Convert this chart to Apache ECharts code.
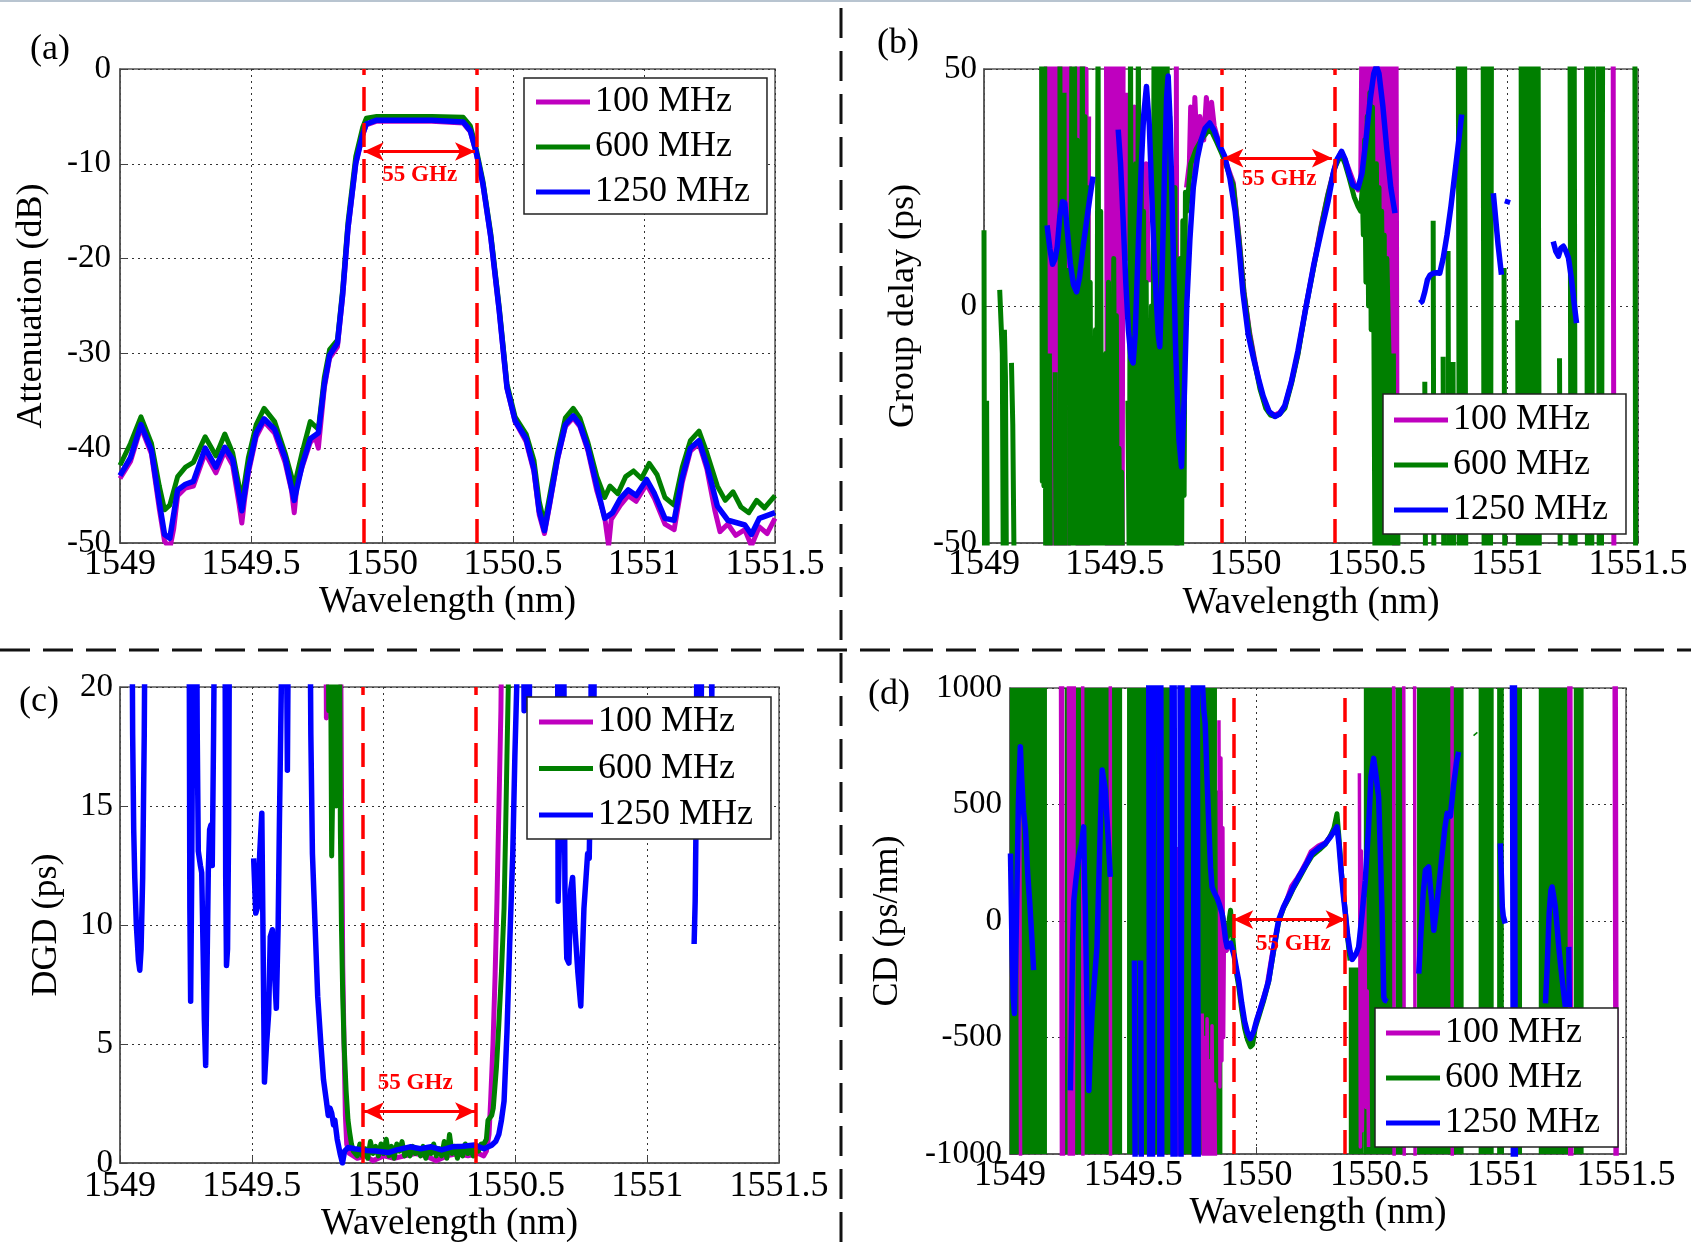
<!DOCTYPE html>
<html>
<head>
<meta charset="utf-8">
<title>Filter response vs. resolution</title>
<script src="https://cdn.jsdelivr.net/npm/echarts@6.0.0/dist/echarts.min.js"></script>
<style>
  html, body { margin: 0; padding: 0; background: #fff; }
  #chart { width: 1691px; height: 1242px; }
</style>
</head>
<body>
<div id="chart"></div>
<script>
const FONT = 'Liberation Serif';
const C_MAG = '#BF00BF', C_GRN = '#007F00', C_BLU = '#0000FF', C_RED = '#FF0000';
const NAMES = ['100 MHz', '600 MHz', '1250 MHz'];
const X_MIN = 1549, X_MAX = 1551.5, X_STEP = 0.5;

// ---------- (a) attenuation, dB ----------
const aMag = [[1549.00,-43.2],[1549.04,-41.4],[1549.08,-37.8],[1549.12,-40.6],[1549.15,-46.4],[1549.17,-49.8],[1549.19,-50.6],[1549.205,-48.5],[1549.22,-45.0],[1549.25,-44.2],[1549.28,-44.0],[1549.325,-40.5],[1549.366,-42.6],[1549.40,-40.3],[1549.43,-41.8],[1549.455,-46.0],[1549.465,-47.9],[1549.475,-45.5],[1549.49,-42.6],[1549.52,-38.8],[1549.55,-37.2],[1549.59,-38.4],[1549.63,-41.5],[1549.655,-44.5],[1549.665,-46.8],[1549.675,-44.0],[1549.695,-42.0],[1549.726,-39.4],[1549.745,-38.8],[1549.757,-40.0],[1549.78,-33.6],[1549.80,-30.5],[1549.83,-29.3],[1549.85,-24.0],[1549.87,-17.0],[1549.90,-10.0],[1549.926,-7.0],[1549.94,-5.9],[1549.98,-5.5],[1550.10,-5.5],[1550.19,-5.5],[1550.31,-5.7],[1550.337,-6.6],[1550.358,-8.7],[1550.385,-12.2],[1550.415,-17.8],[1550.447,-25.5],[1550.477,-33.7],[1550.508,-37.2],[1550.55,-39.3],[1550.58,-42.5],[1550.60,-47.0],[1550.62,-49.0],[1550.64,-46.0],[1550.67,-41.2],[1550.70,-37.7],[1550.73,-36.8],[1550.755,-37.7],[1550.786,-40.3],[1550.82,-44.5],[1550.85,-47.3],[1550.865,-50.3],[1550.875,-47.5],[1550.91,-46.0],[1550.94,-45.0],[1550.97,-45.6],[1551.01,-43.8],[1551.04,-45.3],[1551.08,-48.0],[1551.115,-48.6],[1551.146,-43.6],[1551.177,-40.3],[1551.21,-39.5],[1551.24,-42.2],[1551.27,-46.5],[1551.29,-48.8],[1551.32,-48.0],[1551.35,-49.2],[1551.385,-48.6],[1551.41,-50.3],[1551.44,-48.3],[1551.47,-49.0],[1551.50,-47.4]];
const aGrn = [[1549.00,-41.8],[1549.04,-39.5],[1549.08,-36.7],[1549.12,-39.5],[1549.15,-44.0],[1549.17,-46.5],[1549.19,-46.0],[1549.22,-43.0],[1549.25,-42.0],[1549.28,-41.5],[1549.325,-38.8],[1549.366,-40.8],[1549.40,-38.5],[1549.43,-40.5],[1549.465,-45.5],[1549.49,-41.0],[1549.52,-37.5],[1549.55,-35.8],[1549.59,-37.2],[1549.63,-40.5],[1549.665,-44.0],[1549.695,-40.5],[1549.726,-37.2],[1549.757,-38.0],[1549.78,-32.5],[1549.80,-29.6],[1549.83,-28.6],[1549.85,-23.2],[1549.87,-16.2],[1549.90,-9.2],[1549.926,-6.2],[1549.94,-5.2],[1549.98,-5.0],[1550.10,-5.0],[1550.19,-5.0],[1550.31,-5.1],[1550.337,-6.0],[1550.358,-8.2],[1550.385,-11.8],[1550.415,-17.3],[1550.447,-25.0],[1550.477,-33.2],[1550.508,-36.7],[1550.55,-38.5],[1550.58,-41.3],[1550.60,-45.6],[1550.62,-48.0],[1550.64,-45.0],[1550.67,-40.5],[1550.70,-36.8],[1550.73,-35.8],[1550.755,-36.8],[1550.786,-39.4],[1550.82,-43.0],[1550.85,-45.2],[1550.87,-44.0],[1550.90,-44.8],[1550.93,-43.0],[1550.96,-42.4],[1550.99,-43.2],[1551.02,-41.6],[1551.05,-42.8],[1551.08,-45.2],[1551.115,-46.0],[1551.146,-42.0],[1551.177,-39.2],[1551.21,-38.2],[1551.24,-40.5],[1551.28,-44.0],[1551.31,-45.5],[1551.34,-44.6],[1551.37,-46.2],[1551.40,-46.8],[1551.43,-45.5],[1551.46,-46.3],[1551.50,-45.0]];
const aBlu = [[1549.00,-42.9],[1549.04,-41.0],[1549.08,-37.5],[1549.12,-40.2],[1549.15,-45.7],[1549.17,-49.1],[1549.19,-49.5],[1549.22,-44.4],[1549.25,-43.8],[1549.28,-43.5],[1549.325,-40.0],[1549.366,-42.0],[1549.40,-39.9],[1549.43,-41.2],[1549.465,-46.6],[1549.49,-42.2],[1549.52,-38.4],[1549.55,-36.9],[1549.59,-38.0],[1549.63,-41.0],[1549.665,-45.5],[1549.695,-41.8],[1549.726,-39.0],[1549.757,-38.4],[1549.78,-33.2],[1549.80,-30.2],[1549.83,-28.9],[1549.85,-23.7],[1549.87,-16.8],[1549.90,-9.9],[1549.926,-6.9],[1549.94,-5.8],[1549.98,-5.4],[1550.10,-5.4],[1550.19,-5.4],[1550.31,-5.6],[1550.337,-6.5],[1550.358,-8.6],[1550.385,-12.1],[1550.415,-17.7],[1550.447,-25.4],[1550.477,-33.6],[1550.508,-37.1],[1550.55,-39.0],[1550.58,-42.2],[1550.60,-46.6],[1550.62,-48.7],[1550.64,-45.7],[1550.67,-41.0],[1550.70,-37.5],[1550.73,-36.6],[1550.755,-37.5],[1550.786,-40.0],[1550.82,-44.0],[1550.85,-47.4],[1550.88,-46.8],[1550.91,-45.3],[1550.94,-44.4],[1550.97,-45.0],[1551.01,-43.3],[1551.04,-44.8],[1551.08,-47.4],[1551.115,-47.6],[1551.146,-43.1],[1551.177,-40.0],[1551.21,-39.2],[1551.24,-41.8],[1551.28,-46.1],[1551.32,-47.6],[1551.385,-48.1],[1551.41,-49.1],[1551.44,-47.4],[1551.50,-46.8]];
const aCuts = [1549.93, 1550.355];
const aArrow = [1549.93, 1550.355, -8.7];
const aLabel = [1550.144, -11.2];

// ---------- (b) group delay, ps ----------
const bMag = [[1549.238,60],[1549.242,-60],[1549.246,60],[1549.25,-60],[1549.254,60],[1549.258,-60],[1549.262,60],[1549.266,-60],[1549.27,60],[1549.274,-60],[1549.278,60],[1549.282,-60],[1549.286,60],[1549.29,-60],[1549.294,60],[1549.298,-60],[1549.302,60],[1549.306,-60],[1549.31,60],[1549.314,-60],[1549.318,60],[1549.322,-60],[1549.326,60],[1549.33,-20],null,
  [1549.356,60],[1549.36,-60],[1549.364,60],[1549.368,-60],[1549.372,60],[1549.376,-60],[1549.38,60],[1549.384,-30],[1549.39,50],[1549.395,-60],[1549.40,40],null,
  [1549.468,60],[1549.472,-60],[1549.476,60],[1549.48,-60],[1549.484,60],[1549.488,-60],[1549.492,60],[1549.496,-60],[1549.50,60],[1549.504,-60],[1549.508,60],[1549.512,-60],[1549.516,60],[1549.52,-60],[1549.524,60],[1549.528,-60],[1549.532,60],null,
  [1549.545,45],[1549.55,10],[1549.555,40],[1549.56,-5],[1549.565,35],[1549.57,5],[1549.575,42],[1549.58,-10],[1549.59,30],[1549.595,0],[1549.60,38],[1549.61,-15],[1549.62,30],[1549.63,5],null,
  [1549.735,60],[1549.738,-60],null,
  [1549.774,25],[1549.785,30],[1549.79,42],[1549.797,28],[1549.806,44],[1549.815,32],[1549.825,40],[1549.84,35],[1549.85,44],[1549.86,38],[1549.87,43],[1549.88,38],[1549.89,36],[1549.91,32.5],[1549.93,29.5],[1549.953,26],[1549.975,14.5],[1549.994,3],[1550.015,-5.5],[1550.035,-11.5],[1550.055,-17],[1550.077,-21.2],[1550.095,-22.6],[1550.112,-23],[1550.13,-22.5],[1550.15,-21.2],[1550.175,-16],[1550.2,-10],[1550.23,-0.2],[1550.262,9],[1550.29,17.3],[1550.314,23.5],[1550.34,29.2],[1550.365,32.5],[1550.38,31],[1550.396,28.6],[1550.415,25.8],[1550.43,24.5],[1550.44,26],
  [1550.445,60],[1550.45,20],[1550.455,60],[1550.46,22],[1550.465,60],[1550.47,15],[1550.475,60],[1550.48,25],[1550.485,60],[1550.49,10],[1550.495,60],[1550.50,20],[1550.505,60],[1550.51,5],[1550.515,60],[1550.52,-5],[1550.525,60],[1550.53,0],[1550.535,60],[1550.54,-15],[1550.545,60],[1550.55,10],[1550.555,60],[1550.56,-30],[1550.565,60],[1550.57,-60],[1550.575,60],[1550.58,-60],null,
  [1551.405,60],[1551.408,-60]];
const bGrn = [[1549.000,16],[1549.002,-60],null,[1549.010,-20],[1549.013,-60],null,
  [1549.060,3.4],[1549.066,3.6],[1549.070,-10],[1549.074,-60],null,[1549.078,-5],[1549.082,-15],[1549.086,-60],null,[1549.105,-12],[1549.110,-25],[1549.116,-60],null,
  [1549.220,60],[1549.223,-37],[1549.226,60],[1549.229,-38],[1549.232,55],[1549.236,-60],null,
  [1549.25,-10],[1549.254,-60],null,[1549.272,-14],[1549.276,-60],null,
  [1549.290,60],[1549.293,-60],null,[1549.306,45],[1549.31,-60],null,
  [1549.326,8],[1549.33,-60],[1549.336,60],[1549.34,-60],[1549.346,60],[1549.35,-55],[1549.356,35],[1549.36,-60],[1549.366,12],[1549.37,-60],[1549.376,60],[1549.38,-60],[1549.386,40],[1549.39,-60],[1549.396,25],[1549.40,-60],[1549.406,5],[1549.41,-60],[1549.416,-15],[1549.42,-60],[1549.426,-5],[1549.43,-60],[1549.436,60],[1549.44,-60],[1549.446,20],[1549.45,-60],[1549.456,-25],[1549.46,-60],[1549.466,-10],[1549.47,-60],[1549.476,5],[1549.48,-60],[1549.486,-20],[1549.49,-60],[1549.496,10],[1549.50,-40],[1549.506,-2],[1549.51,-60],[1549.516,-30],[1549.52,-55],[1549.526,-35],[1549.53,-58],null,
  [1549.55,-20],[1549.556,-60],[1549.56,60],[1549.565,-60],[1549.57,-5],[1549.575,-60],[1549.58,30],[1549.585,-60],[1549.59,60],[1549.595,-60],[1549.60,40],[1549.605,-45],[1549.61,20],[1549.615,-60],[1549.62,5],[1549.625,-60],[1549.63,-30],[1549.635,-55],[1549.64,0],[1549.645,-60],[1549.65,60],[1549.655,-60],[1549.66,-20],[1549.665,-55],[1549.67,60],[1549.675,-60],[1549.68,60],[1549.685,-60],[1549.69,20],[1549.695,-50],[1549.70,60],[1549.705,-60],[1549.71,40],[1549.715,-60],[1549.72,10],[1549.725,-60],[1549.73,25],[1549.735,-60],[1549.74,-10],[1549.745,-60],[1549.75,10],[1549.755,-60],[1549.76,18],[1549.765,-40],[1549.77,24],[1549.775,20],[1549.79,30],[1549.81,33],[1549.83,35],[1549.864,37.5],[1549.89,34.5],[1549.91,32],[1549.93,29],[1549.953,25.5],[1549.975,14],[1549.994,2.6],[1550.015,-6],[1550.035,-12],[1550.055,-17.5],[1550.077,-21.6],[1550.095,-23],[1550.112,-23.3],[1550.13,-22.8],[1550.15,-21.6],[1550.175,-16.5],[1550.2,-10.3],[1550.23,-0.5],[1550.262,8.6],[1550.29,17],[1550.314,23.3],[1550.34,29],[1550.365,32],[1550.38,30],[1550.396,27],[1550.415,23],[1550.43,21],[1550.44,20],
  [1550.446,25],[1550.45,15],[1550.455,35],[1550.46,5],[1550.465,40],[1550.47,0],[1550.475,45],[1550.48,-5],[1550.485,42],[1550.49,0],[1550.495,-60],[1550.50,30],[1550.505,-2],[1550.51,25],[1550.515,-60],[1550.52,20],[1550.525,-8],[1550.53,15],[1550.535,-60],[1550.54,10],[1550.55,-15],[1550.555,-60],null,
  [1550.565,-10],[1550.568,-60],null,[1550.58,-20],[1550.583,-60],null,[1550.645,-45],[1550.66,-48],null,
  [1550.685,-16],[1550.688,-60],null,[1550.717,18],[1550.72,-60],null,[1550.755,-10.7],[1550.758,-60],null,[1550.774,11.6],[1550.777,-60],null,[1550.793,-11.8],[1550.796,-60],null,
  [1550.813,60],[1550.817,-60],[1550.821,60],[1550.825,-60],[1550.829,60],[1550.833,-60],[1550.837,60],[1550.842,-60],null,
  [1550.908,60],[1550.912,-60],[1550.916,60],[1550.92,-60],[1550.924,60],[1550.928,-60],[1550.932,60],[1550.936,-60],[1550.94,60],null,
  [1550.988,8],[1550.991,-60],null,[1551.04,-3],[1551.043,-60],null,
  [1551.053,60],[1551.057,-60],[1551.061,60],[1551.065,-60],[1551.069,60],[1551.073,-60],[1551.078,30],[1551.083,-60],[1551.088,60],[1551.093,-60],[1551.098,60],[1551.103,-60],[1551.108,60],[1551.113,-60],[1551.118,60],[1551.123,-60],null,
  [1551.2,-11],[1551.203,-60],null,
  [1551.24,60],[1551.244,-60],[1551.248,60],[1551.252,-60],[1551.256,60],[1551.26,-60],null,
  [1551.303,60],[1551.307,-60],[1551.311,60],[1551.315,-60],[1551.319,60],[1551.323,-60],[1551.328,60],null,
  [1551.348,60],[1551.352,-60],[1551.356,60],[1551.36,-60],[1551.365,60],null,
  [1551.488,60],[1551.491,-60]];
const bBlu = [[1549.241,17],[1549.252,12],[1549.262,8.8],[1549.272,10],[1549.28,12.5],[1549.29,19],[1549.30,22],[1549.309,21.7],[1549.32,15],[1549.33,9],[1549.342,4.5],[1549.354,3],[1549.365,6],[1549.38,13],[1549.395,19],[1549.405,23],[1549.417,27.3],null,
  [1549.513,37.2],[1549.522,30],[1549.532,18],[1549.542,5],[1549.552,-5],[1549.562,-11],[1549.57,-12],[1549.578,-6],[1549.588,10],[1549.60,28],[1549.61,40],[1549.621,46.3],[1549.632,38],[1549.645,18],[1549.658,2],[1549.666,-6],[1549.672,-8.6],[1549.68,5],[1549.69,28],[1549.698,44],[1549.704,48.5],[1549.712,38],[1549.722,15],[1549.733,-10],[1549.745,-28],[1549.755,-33.9],[1549.765,-20],[1549.775,0],[1549.787,14],[1549.80,25],[1549.815,31],[1549.83,35],[1549.845,37.5],[1549.863,38.6],[1549.88,37],[1549.9,34],[1549.92,31.6],[1549.94,27],[1549.96,20],[1549.975,12],[1549.99,2.7],[1550.01,-6],[1550.03,-11],[1550.05,-15.5],[1550.067,-19],[1550.09,-22.3],[1550.112,-23.3],[1550.13,-22.8],[1550.15,-21],[1550.175,-16],[1550.2,-9.5],[1550.23,-0.5],[1550.26,8.5],[1550.29,16],[1550.315,22],[1550.335,28],[1550.35,31],[1550.367,32.6],[1550.38,31],[1550.395,28],[1550.41,25.5],[1550.43,24.9],[1550.445,28],[1550.46,35],[1550.475,43],[1550.49,49],[1550.5,50.6],[1550.51,49],[1550.525,42],[1550.54,33],[1550.555,25],[1550.571,19.6],null,
  [1550.666,0.6],[1550.675,1],[1550.685,3],[1550.695,5.5],[1550.705,6.5],[1550.717,6.9],[1550.73,7],[1550.742,6.9],[1550.755,10],[1550.77,15],[1550.785,21],[1550.8,28],[1550.815,35],[1550.826,40.4],null,
  [1550.947,23.8],[1550.955,19],[1550.965,13],[1550.978,6.6],null,[1550.998,21.5],[1551.004,22.5],null,
  [1551.176,13.6],[1551.186,11.5],[1551.196,10.5],[1551.205,12.2],[1551.215,12.6],[1551.225,11.5],[1551.234,10.2],[1551.245,6],[1551.255,1],[1551.265,-3.6]];
const bCuts = [1549.91, 1550.336];
const bArrow = [1549.915, 1550.33, 31.2];
const bLabel = [1550.128, 26.7];

// ---------- (c) DGD, ps ----------
const cMag = [[1549.78,25],[1549.783,18.7],[1549.786,25],null,
  [1549.836,25],[1549.84,16],[1549.845,8.3],[1549.85,5],[1549.855,2],[1549.86,0.8],[1549.87,0.4],[1549.9,0.2],[1549.93,0.3],[1549.96,0.1],[1550.0,0.3],[1550.04,0.2],[1550.08,0.3],[1550.12,0.4],[1550.16,0.3],[1550.2,0.1],[1550.24,0.3],[1550.28,0.4],[1550.32,0.3],[1550.36,0.4],[1550.38,0.3],[1550.39,0.5],[1550.40,1.2],[1550.406,2.6],[1550.415,5],[1550.423,7.9],[1550.43,11],[1550.437,14.7],[1550.445,19],[1550.451,25]];
const cGrn = [[1549.788,25],[1549.792,19],[1549.795,25],[1549.80,19],[1549.803,12.9],[1549.806,15],[1549.81,25],[1549.815,18],[1549.82,15],[1549.824,25],[1549.828,17],[1549.832,25],[1549.836,14],[1549.84,10],[1549.845,7],[1549.85,5],[1549.858,3],[1549.865,1.8],[1549.871,1.3],[1549.878,0.8],[1549.885,0.5],[1549.9,0.3],[1549.91,0.8],[1549.92,0.3],[1549.93,0.6],[1549.94,0.2],[1549.95,0.9],[1549.96,0.4],[1549.97,0.7],[1549.98,0.3],[1549.99,0.8],[1550.0,0.4],[1550.01,1.0],[1550.02,0.3],[1550.03,0.7],[1550.04,0.2],[1550.05,0.8],[1550.06,0.5],[1550.07,0.9],[1550.08,0.3],[1550.09,0.6],[1550.1,0.3],[1550.11,0.7],[1550.12,0.4],[1550.13,0.6],[1550.14,0.3],[1550.15,0.7],[1550.16,0.2],[1550.17,0.6],[1550.18,0.4],[1550.19,0.8],[1550.2,0.3],[1550.21,0.6],[1550.22,0.3],[1550.23,0.9],[1550.24,0.2],[1550.25,1.2],[1550.26,0.4],[1550.27,0.7],[1550.28,0.2],[1550.29,0.6],[1550.3,0.3],[1550.31,0.8],[1550.32,0.4],[1550.33,0.6],[1550.34,0.3],[1550.35,0.7],[1550.36,0.5],[1550.37,0.8],[1550.38,0.8],[1550.39,1.0],[1550.396,1.8],[1550.41,2.0],[1550.416,2.3],[1550.428,4],[1550.437,5.8],[1550.447,8],[1550.457,10.7],[1550.463,14],[1550.468,17.1],[1550.473,20],[1550.478,25]];
const cBlu = [[1549.045,25],[1549.048,18],[1549.052,14],[1549.056,12],[1549.062,10],[1549.07,8.5],[1549.075,8.1],[1549.08,9],[1549.086,12],[1549.092,18],[1549.096,25],null,
  [1549.262,25],[1549.265,10.7],[1549.268,6.8],[1549.272,12],[1549.276,20],[1549.28,25],null,
  [1549.29,25],[1549.293,18],[1549.297,13.1],[1549.305,12.5],[1549.31,12.2],[1549.32,6],[1549.325,4.1],[1549.33,8],[1549.335,12.3],[1549.34,14],[1549.345,14.2],[1549.35,12.5],[1549.355,18],[1549.36,25],null,
  [1549.398,25],[1549.401,12],[1549.404,8.3],[1549.408,9],[1549.412,14],[1549.416,25],null,
  [1549.507,12.8],[1549.515,10.5],[1549.523,10.8],[1549.53,13],[1549.538,14.7],[1549.548,3.4],[1549.556,5],[1549.564,6.3],[1549.57,9.5],[1549.578,9.8],[1549.586,8],[1549.593,6.5],[1549.60,10],[1549.605,14.5],[1549.612,20],[1549.617,25],null,
  [1549.63,25],[1549.635,16.5],[1549.64,25],null,
  [1549.72,25],[1549.724,18],[1549.73,13],[1549.74,10],[1549.75,7],[1549.762,5],[1549.772,3.5],[1549.783,2.6],[1549.79,2.0],[1549.797,2.3],[1549.803,2.1],[1549.81,1.6],[1549.815,1.8],[1549.824,1.0],[1549.835,0.4],[1549.844,0.0],[1549.852,0.5],[1549.865,0.65],[1549.89,0.6],[1549.936,0.52],[1549.97,0.5],[1550.018,0.44],[1550.05,0.55],[1550.1,0.68],[1550.14,0.6],[1550.18,0.68],[1550.22,0.55],[1550.26,0.68],[1550.3,0.7],[1550.345,0.76],[1550.38,0.6],[1550.41,0.75],[1550.425,0.9],[1550.437,1.2],[1550.447,1.8],[1550.457,2.6],[1550.468,5.5],[1550.478,9.1],[1550.49,13],[1550.498,17.1],[1550.505,20],[1550.513,25],null,
  [1550.53,25],[1550.533,19],[1550.536,25],null,[1550.55,25],[1550.553,19.5],[1550.556,25],null,
  [1550.660,25],[1550.662,11],[1550.666,13],[1550.672,14.7],[1550.676,25],null,
  [1550.682,25],[1550.688,11.5],[1550.695,8.6],[1550.703,8.4],[1550.71,11.5],[1550.717,12],[1550.725,10],[1550.737,8],[1550.748,6.6],[1550.755,9],[1550.76,10.7],[1550.768,12],[1550.774,13],[1550.78,12.8],[1550.785,16],[1550.79,25],null,
  [1550.795,25],[1550.798,19],[1550.80,25],null,
  [1551.178,9.2],[1551.182,11],[1551.185,14],[1551.19,25],null,
  [1551.2,25],[1551.205,19.3],[1551.21,25],null,[1551.24,25],[1551.245,19.5],[1551.25,25]];
const cCuts = [1549.925, 1550.347];
const cArrow = [1549.925, 1550.347, 2.16];
const cLabel = [1550.12, 3.34];

// ---------- (d) chromatic dispersion, ps/nm ----------
// solid green regions where the 600 MHz trace oscillates densely: [from, to, top, bottom]
const dGrnBands = [[1549.0,1549.15,1000,-1000],[1549.222,1549.236,1000,-1000],[1549.262,1549.455,1000,-1000],[1549.475,1549.658,1000,-1000],[1549.683,1549.84,1000,-1000],[1549.84,1549.862,560,-1000],
  [1550.375,1550.436,-200,-1000],[1550.436,1550.557,1000,-1000],[1550.564,1550.597,1000,-1000],[1550.652,1550.841,1000,-1000],[1550.902,1550.963,1000,-1000],[1550.977,1551.004,1000,-1000],[1551.051,1551.078,1000,-1000],[1551.146,1551.268,1000,-1000],[1551.288,1551.328,1000,-1000]];
const dGrn = [[1549.862,30],[1549.87,-20],[1549.878,-90],[1549.885,-60],[1549.89,10],[1549.895,46],[1549.9,40],[1549.905,-80],[1549.912,-170],[1549.92,-230],[1549.928,-280],[1549.94,-380],[1549.952,-460],[1549.964,-510],[1549.976,-540],[1549.985,-530],[1549.995,-460],[1550.01,-410],[1550.03,-340],[1550.05,-260],[1550.07,-130],[1550.09,-5],[1550.11,55],[1550.13,95],[1550.15,140],[1550.172,180],[1550.2,235],[1550.226,280],[1550.255,305],[1550.28,330],[1550.3,365],[1550.315,400],[1550.327,460],[1550.335,360],[1550.345,210],[1550.353,120],[1550.361,40],[1550.37,-70],[1550.38,-170],null,
  [1550.887,805],[1550.891,800]];
const dMag = [[1549.04,463],[1549.043,-1100],null,
  [1549.205,1100],[1549.209,-1100],[1549.213,1100],[1549.217,-1100],null,
  [1549.237,1100],[1549.241,-1100],[1549.245,1100],[1549.249,-1100],[1549.253,1100],[1549.257,-1100],[1549.261,1100],null,
  [1549.295,1100],[1549.296,-1100],null,[1549.407,1100],[1549.408,-1100],null,
  [1549.68,318],[1549.683,-1100],null,
  [1549.78,-397],[1549.785,-1100],[1549.79,-500],[1549.795,-1100],[1549.80,-420],[1549.805,-1100],[1549.81,-600],[1549.815,-1100],[1549.82,-450],[1549.825,-1100],[1549.83,-700],[1549.835,-1100],null,
  [1549.848,862],[1549.852,-712],[1549.856,700],[1549.86,-600],[1549.864,400],[1549.867,-500],[1549.87,-60],[1549.88,-130],[1549.89,-110],[1549.9,-90],[1549.91,-160],[1549.92,-200],[1549.93,-270],[1549.945,-400],[1549.96,-470],[1549.972,-520],[1549.985,-490],[1550.0,-420],[1550.02,-350],[1550.04,-280],[1550.06,-150],[1550.08,-40],[1550.1,40],[1550.12,90],[1550.14,150],[1550.16,180],[1550.18,215],[1550.2,255],[1550.22,300],[1550.25,325],[1550.28,340],[1550.3,370],[1550.32,400],[1550.33,420],[1550.34,300],[1550.35,150],[1550.36,50],[1550.37,-80],[1550.38,-150],null,
  [1550.418,634],[1550.422,-970],[1550.426,300],[1550.43,-900],[1550.44,100],[1550.445,-800],[1550.45,-300],[1550.455,-970],null,
  [1550.557,1100],[1550.559,-1100],null,[1550.598,1100],[1550.6,-1100],null,[1550.642,1100],[1550.644,-1100],null,[1550.794,1100],[1550.795,-1100],null,
  [1551.268,1100],[1551.272,-1100],[1551.276,1100],[1551.28,-1100],null,
  [1551.452,1100],[1551.456,-1100],[1551.46,1100],[1551.464,-1100]];
const dBlu = [[1549.002,290],[1549.008,-100],[1549.013,-330],[1549.018,-397],[1549.026,0],[1549.034,500],[1549.042,748],[1549.048,600],[1549.055,470],[1549.063,390],[1549.072,200],[1549.08,80],[1549.088,-60],[1549.096,-211],null,
  [1549.245,-727],[1549.25,-400],[1549.254,-100],[1549.259,89],[1549.268,180],[1549.279,275],[1549.29,330],[1549.299,404],[1549.302,200],[1549.306,31],[1549.312,-350],[1549.32,-727],[1549.326,-560],[1549.333,-397],[1549.343,-250],[1549.353,-111],[1549.36,150],[1549.367,420],[1549.374,648],[1549.38,610],[1549.387,562],[1549.397,380],[1549.407,189],null,
  [1549.505,-170],[1549.508,-1100],null,[1549.53,-170],[1549.533,-1100],null,
  [1549.563,1100],[1549.567,-1100],[1549.573,1100],[1549.578,-1100],[1549.583,1100],null,
  [1549.604,1100],[1549.608,-1100],[1549.612,1100],[1549.616,-1100],null,
  [1549.658,1100],[1549.662,-1100],[1549.666,1100],[1549.67,-1100],null,
  [1549.69,1100],[1549.694,-1100],[1549.698,1100],null,
  [1549.744,1100],[1549.748,-1100],[1549.752,1100],[1549.756,-1100],[1549.76,1100],[1549.764,-1100],null,
  [1549.776,1100],[1549.782,1000],[1549.787,900],[1549.792,850],[1549.8,600],[1549.808,380],[1549.814,230],[1549.82,146],[1549.83,120],[1549.84,100],[1549.85,70],[1549.861,31],[1549.868,-20],[1549.875,-80],[1549.881,-111],[1549.888,-105],[1549.895,-95],[1549.901,-97],[1549.91,-150],[1549.92,-210],[1549.928,-254],[1549.94,-350],[1549.952,-430],[1549.964,-480],[1549.976,-505],[1549.99,-470],[1550.0,-430],[1550.01,-397],[1550.03,-330],[1550.05,-254],[1550.07,-120],[1550.09,3],[1550.11,60],[1550.13,103],[1550.15,145],[1550.172,189],[1550.2,240],[1550.226,290],[1550.255,315],[1550.28,333],[1550.3,360],[1550.315,385],[1550.327,404],[1550.335,330],[1550.345,200],[1550.353,110],[1550.361,32],[1550.37,-60],[1550.38,-130],[1550.389,-165],[1550.395,-168],[1550.405,-140],[1550.415,-111],[1550.428,20],[1550.442,175],[1550.455,400],[1550.465,620],[1550.476,698],[1550.486,620],[1550.496,533],[1550.503,300],[1550.51,32],[1550.517,-326],[1550.522,-340],[1550.532,-345],null,
  [1550.659,-226],[1550.668,-50],[1550.677,120],[1550.686,218],[1550.699,232],[1550.71,100],[1550.72,-40],[1550.73,50],[1550.74,146],[1550.755,300],[1550.765,400],[1550.774,462],[1550.787,450],[1550.8,580],[1550.812,680],[1550.821,726],null,
  [1550.99,333],[1550.994,200],[1550.998,60],[1551.002,20],[1551.01,-11],null,
  [1551.039,1100],[1551.043,-1100],[1551.047,1100],[1551.051,-1100],null,
  [1551.173,-354],[1551.18,-200],[1551.188,30],[1551.195,130],[1551.2,146],[1551.206,110],[1551.213,60],[1551.22,-20],[1551.227,-110],[1551.234,-183],[1551.244,-280],[1551.254,-369],null,
  [1551.268,-111],[1551.27,-369]];
const dCuts = [1549.906, 1550.362];
const dArrow = [1549.906, 1550.362, 6];
const dLabel = [1550.15, -100];

// ---------- layout ----------
const panels = [
  { grid: {left: 120, top: 69, width: 655, height: 474}, yMin: -50, yMax: 0, yStep: 10, yName: 'Attenuation (dB)',
    yGap: 70, xGap: 38, xMargin: 4, yMargin: 9, legend: {left: 524, top: 78, padding: [6, 17, 4, 12], gap: 9}, tag: '(a)', tagPos: [30, 32] },
  { grid: {left: 984, top: 69, width: 654, height: 474}, yMin: -50, yMax: 50, yStep: 50, yName: 'Group delay (ps)',
    yGap: 62, xGap: 42, xMargin: 4, yMargin: 7, legend: {left: 1383, top: 394, padding: [8, 18, 6, 11], gap: 9}, tag: '(b)', tagPos: [877, 26] },
  { grid: {left: 120, top: 687, width: 659, height: 476}, yMin: 0, yMax: 20, yStep: 5, yName: 'DGD (ps)',
    yGap: 55, xGap: 43, xMargin: 6, yMargin: 7, legend: {left: 527, top: 697, padding: [7, 18, 6, 12], gap: 10.5}, tag: '(c)', tagPos: [19, 684] },
  { grid: {left: 1010, top: 688, width: 616, height: 466}, yMin: -1000, yMax: 1000, yStep: 500, yName: 'CD (ps/nm)',
    yGap: 104, xGap: 41, xMargin: 4, yMargin: 8, legend: {left: 1375, top: 1008, padding: [7, 18, 6, 11], gap: 9}, tag: '(d)', tagPos: [868, 677] }
];

const gap = arr => arr.map(p => (p === null ? ['-', '-'] : p));

function trace(name, data, color, width, idx, extra) {
  return Object.assign({
    name, type: 'line', xAxisIndex: idx, yAxisIndex: idx, data: gap(data),
    showSymbol: false, symbol: 'none', silent: true, animation: false, clip: true,
    lineStyle: {color, width, join: 'round'}, itemStyle: {color},
    emphasis: {disabled: true}
  }, extra || {});
}

function markers(cuts, arrow, label) {
  const arrowEnd = {symbol: 'arrow', symbolSize: [14, 20], lineStyle: {type: 'solid', width: 3, color: C_RED}};
  return {
    markLine: {
      silent: true, animation: false, symbol: 'none', label: {show: false}, emphasis: {disabled: true},
      lineStyle: {color: C_RED, width: 3.5, type: [24, 12]},
      data: [
        {xAxis: cuts[0]}, {xAxis: cuts[1]},
        [Object.assign({coord: [arrow[0], arrow[2]]}, arrowEnd), Object.assign({coord: [arrow[1], arrow[2]]}, arrowEnd)]
      ]
    },
    markPoint: {
      silent: true, animation: false, symbol: 'circle', symbolSize: 0,
      label: {show: true, position: 'inside', formatter: '55 GHz', color: C_RED, fontSize: 23, fontWeight: 'bold', fontFamily: FONT},
      data: [{coord: label}]
    }
  };
}

const traces = [
  [aMag, aGrn, aBlu, aCuts, aArrow, aLabel, null],
  [bMag, bGrn, bBlu, bCuts, bArrow, bLabel, null],
  [cMag, cGrn, cBlu, cCuts, cArrow, cLabel, null],
  [dMag, dGrn, dBlu, dCuts, dArrow, dLabel, dGrnBands]
];

// drawn in the original plotting order: 100 MHz, 600 MHz, 1250 MHz
const series = [];
traces.forEach((t, i) => {
  const grnExtra = t[6] ? {
    markArea: {
      silent: true, animation: false, label: {show: false}, emphasis: {disabled: true},
      itemStyle: {color: C_GRN, opacity: 1},
      data: t[6].map(b => [{coord: [b[0], b[2]]}, {coord: [b[1], b[3]]}])
    }
  } : null;
  series.push(trace(NAMES[0], t[0], C_MAG, i === 3 ? 3.5 : 5, i));
  series.push(trace(NAMES[1], t[1], C_GRN, 5, i, grnExtra));
  series.push(trace(NAMES[2], t[2], C_BLU, 5.5, i, markers(t[3], t[4], t[5])));
});

const axisLineStyle = {color: '#555', width: 1.5};
const option = {
  animation: false,
  backgroundColor: '#fff',
  textStyle: {fontFamily: FONT},
  grid: panels.map(p => Object.assign({show: true, borderColor: '#555', borderWidth: 1.5, containLabel: false, outerBoundsMode: 'none'}, p.grid)),
  xAxis: panels.map((p, i) => ({
    type: 'value', gridIndex: i, min: X_MIN, max: X_MAX, interval: X_STEP,
    name: 'Wavelength (nm)', nameLocation: 'middle', nameGap: p.xGap,
    nameTextStyle: {fontFamily: FONT, fontSize: 37, color: '#000'},
    axisLine: {show: true, onZero: false, lineStyle: axisLineStyle},
    axisTick: {show: true, inside: true, length: 7, lineStyle: {color: '#444'}},
    axisLabel: {fontFamily: FONT, fontSize: 36, color: '#000', margin: p.xMargin, hideOverlap: false, formatter: v => String(v)},
    splitLine: {show: true, lineStyle: {color: '#333', width: 1, type: [2, 4]}}
  })),
  yAxis: panels.map((p, i) => ({
    type: 'value', gridIndex: i, min: p.yMin, max: p.yMax, interval: p.yStep,
    name: p.yName, nameLocation: 'middle', nameGap: p.yGap,
    nameTextStyle: {fontFamily: FONT, fontSize: 36, color: '#000'},
    axisLine: {show: true, onZero: false, lineStyle: axisLineStyle},
    axisTick: {show: true, inside: true, length: 7, lineStyle: {color: '#444'}},
    axisLabel: {fontFamily: FONT, fontSize: 33, color: '#000', margin: p.yMargin, hideOverlap: false, formatter: v => String(v)},
    splitLine: {show: true, lineStyle: {color: '#333', width: 1, type: [2, 4]}}
  })),
  legend: panels.map(p => ({
    show: true, data: NAMES, orient: 'vertical', left: p.legend.left, top: p.legend.top,
    padding: p.legend.padding, itemGap: p.legend.gap, itemWidth: 54, itemHeight: 5, icon: 'rect',
    selectedMode: false, backgroundColor: '#fff', borderColor: '#222', borderWidth: 1.5, borderRadius: 0,
    textStyle: {fontFamily: FONT, fontSize: 36, color: '#000', lineHeight: 36}
  })),
  graphic: panels.map(p => ({
    type: 'text', left: p.tagPos[0], top: p.tagPos[1], z: 10,
    style: {text: p.tag, font: '36px "Liberation Serif"', fill: '#000'}
  })).concat([
    {type: 'line', z: 10, shape: {x1: 841, y1: 8, x2: 841, y2: 1242}, style: {stroke: '#111', lineWidth: 3, lineDash: [30, 13]}},
    {type: 'line', z: 10, shape: {x1: 0, y1: 650, x2: 1691, y2: 650}, style: {stroke: '#111', lineWidth: 3, lineDash: [30, 13]}},
    {type: 'line', z: 10, shape: {x1: 0, y1: 1, x2: 1691, y2: 1}, style: {stroke: '#b8c4d0', lineWidth: 2}}
  ]),
  series
};

const chart = echarts.init(document.getElementById('chart'), null, {renderer: 'canvas'});
chart.setOption(option);
</script>
</body>
</html>
